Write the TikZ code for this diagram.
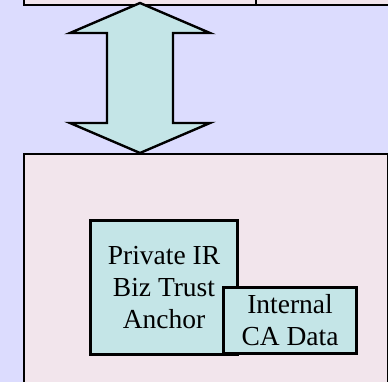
\documentclass[tikz,border=0pt]{standalone}
\usepackage{fontspec}
\setmainfont{Liberation Serif}
\definecolor{bgc}{HTML}{DCDCFE}
\definecolor{pinkc}{HTML}{F2E5EC}
\definecolor{tealc}{HTML}{C4E5E7}
\begin{document}
\begin{tikzpicture}[x=1pt,y=-1pt,
  pinkbox/.style={draw=black,line width=2pt,fill=pinkc,inner sep=0pt,anchor=north west},
  tealbox/.style={draw=black,line width=3pt,fill=tealc,inner sep=0pt,anchor=north west,
    align=center,font=\fontsize{27.5}{32}\selectfont},
  dblarrow/.style={draw=black,line width=2.4pt,fill=tealc,line join=miter}]
\fill[bgc] (0,0) rectangle (388,382);
\useasboundingbox (0,0) rectangle (388,382);
% top boxes
\node[pinkbox,minimum width=232pt,minimum height=24pt] (topl) at (23,-20) {};
\node[pinkbox,minimum width=140pt,minimum height=24pt] (topr) at (255,-20) {};
% bottom big box
\node[pinkbox,minimum width=364pt,minimum height=250pt] (big) at (23,153) {};
% double arrow
\coordinate (atop) at (140,3);
\coordinate (abot) at (140,153);
\draw[dblarrow] (atop) -- (210,33) -- (173,33) -- (173,123) -- (210,123) -- (abot)
  -- (70,123) -- (107,123) -- (107,33) -- (70,33) -- cycle;
% inner boxes
\node[tealbox,minimum width=147pt,minimum height=134pt] (anchor) at (89,219)
  {Private IR\\Biz Trust\\Anchor};
\node[tealbox,minimum width=133pt,minimum height=66pt] (cadata) at (222,286)
  {Internal\\CA Data};
\end{tikzpicture}
\end{document}
